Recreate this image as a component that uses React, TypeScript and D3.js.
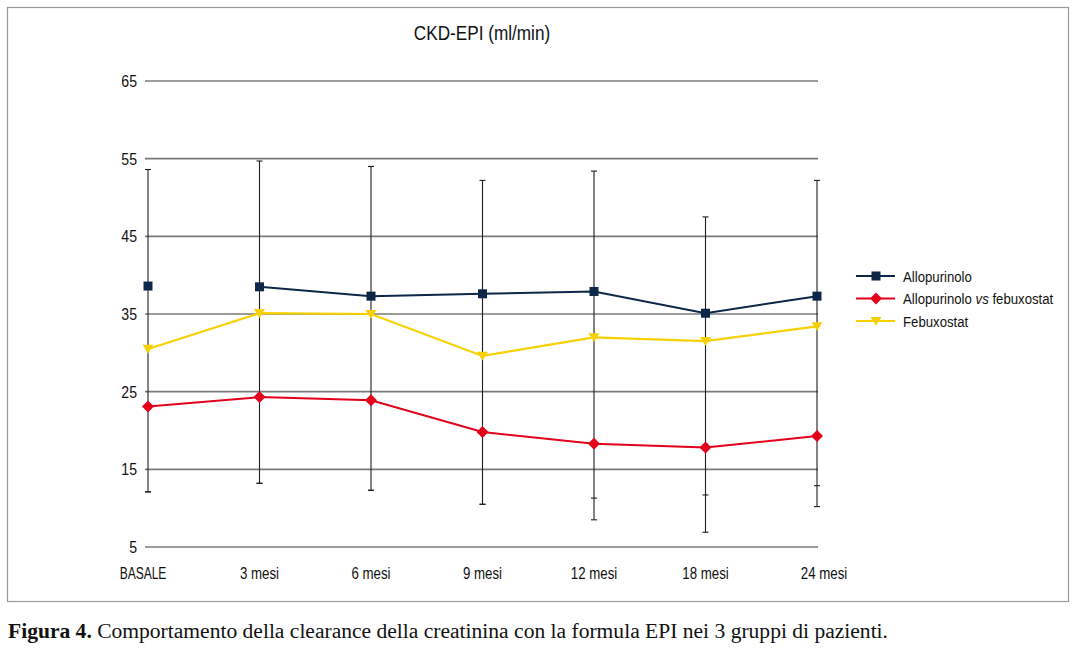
import React from 'react';
import * as d3 from 'd3';

const categories = ['BASALE', '3 mesi', '6 mesi', '9 mesi', '12 mesi', '18 mesi', '24 mesi'];
const yTicks = [5, 15, 25, 35, 45, 55, 65];

const allopurinolo = [38.6, 38.5, 37.3, 37.6, 37.9, 35.1, 37.3];
const alloFebu = [23.1, 24.3, 23.9, 19.8, 18.3, 17.8, 19.3];
const febuxostat = [30.5, 35.1, 35.0, 29.6, 32.0, 31.5, 33.4];

// whisker ends
const errorHigh = [53.6, 54.7, 54.0, 52.2, 53.4, 47.5, 52.2];
const errorLow = [12.1, 13.2, 12.3, 10.5, 8.5, 6.9, 10.2];
const errorLowInner = [12.1, 13.2, 12.3, 10.5, 11.3, 11.7, 12.9];

const NAVY = '#0c2748';
const RED = '#e2001a';
const YELLOW = '#f8d000';
const FONT = '"Liberation Sans", Arial, sans-serif';

// condensed text: regular sans squeezed horizontally
const NText = ({ x, y, size, sx = 0.83, anchor = 'start', children }: any) => (
  <text transform={`translate(${x},${y}) scale(${sx},1)`} textAnchor={anchor}
    fontFamily={FONT} fontSize={size} fill="#111">
    {children}
  </text>
);

export default function App() {
  const x = d3.scalePoint<string>().domain(categories).range([148, 817]);
  const y = d3.scaleLinear().domain([5, 65]).range([547, 81]);

  const mkLine = (vals: number[], skipFirst = false) =>
    d3.line<number>()
      .defined((_, i) => !skipFirst || i > 0)
      .x((_, i) => x(categories[i])!)
      .y(d => y(d))(vals) || '';

  const square = (cx: number, cy: number, s: number) =>
    <rect x={cx - s / 2} y={cy - s / 2} width={s} height={s} fill={NAVY} />;
  const diamond = (cx: number, cy: number, s: number) =>
    <path d={`M${cx},${cy - s}L${cx + s},${cy}L${cx},${cy + s}L${cx - s},${cy}Z`} fill={RED} />;
  const triangle = (cx: number, cy: number, s: number) =>
    <path d={`M${cx - s},${cy - s * 0.75}L${cx + s},${cy - s * 0.75}L${cx},${cy + s * 0.85}Z`} fill={YELLOW} />;

  const legend = [
    { label: 'Allopurinolo', color: NAVY, mark: square, size: 9 },
    { label: 'vs', color: RED, mark: diamond, size: 6 },
    { label: 'Febuxostat', color: YELLOW, mark: triangle, size: 5.5 },
  ];

  return (
    <svg width={1075} height={648} style={{ position: 'absolute', left: 0, top: 0, background: '#fff' }}>
      <rect x={7.5} y={7.5} width={1061} height={594} fill="none" stroke="#9a9a9a" strokeWidth={1.2} />

      <NText x={482} y={40} size={19.5} sx={0.88} anchor="middle">CKD-EPI (ml/min)</NText>

      {/* grid + y labels */}
      {yTicks.map(t => (
        <g key={t}>
          <line x1={145} x2={818} y1={y(t)} y2={y(t)} stroke="#7a7a7a" strokeWidth={1.6} />
          <NText x={137} y={y(t) + 6} size={17} anchor="end">{t}</NText>
        </g>
      ))}

      {/* x labels */}
      {categories.map(c => (
        <NText key={c} x={x(c)! + (c === '24 mesi' ? 7 : c === 'BASALE' ? -5 : 0)} y={579}
          size={16} sx={c === 'BASALE' ? 0.75 : 0.83} anchor="middle">
          {c}
        </NText>
      ))}

      {/* error bars */}
      {categories.map((c, i) => {
        const cx = x(c)!;
        const caps = [errorHigh[i], errorLow[i], errorLowInner[i]];
        return (
          <g key={c} stroke="#1e1e1e" strokeWidth={1.1}>
            <line x1={cx} x2={cx} y1={y(errorHigh[i])} y2={y(errorLow[i])} />
            {caps.map((v, k) => (
              <line key={k} x1={cx - 3} x2={cx + 3} y1={y(v)} y2={y(v)} />
            ))}
          </g>
        );
      })}

      {/* series */}
      <path d={mkLine(allopurinolo, true)} fill="none" stroke={NAVY} strokeWidth={2} />
      <path d={mkLine(alloFebu)} fill="none" stroke={RED} strokeWidth={2} />
      <path d={mkLine(febuxostat)} fill="none" stroke={YELLOW} strokeWidth={2.2} />
      {allopurinolo.map((v, i) => <g key={'a' + i}>{square(x(categories[i])!, y(v), 9)}</g>)}
      {alloFebu.map((v, i) => <g key={'r' + i}>{diamond(x(categories[i])!, y(v), 6)}</g>)}
      {febuxostat.map((v, i) => <g key={'f' + i}>{triangle(x(categories[i])!, y(v), 5.5)}</g>)}

      {/* legend */}
      {legend.map((l, i) => {
        const ly = 276 + i * 22.5;
        return (
          <g key={l.label}>
            <line x1={856} x2={895} y1={ly} y2={ly} stroke={l.color} strokeWidth={2} />
            {l.mark(876, ly, l.size)}
            <NText x={903} y={ly + 5.5} size={15} sx={0.88}>
              {i === 1 ? (
                <>Allopurinolo <tspan fontStyle="italic">vs</tspan> febuxostat</>
              ) : l.label}
            </NText>
          </g>
        );
      })}

      {/* caption */}
      <text x={8} y={638} fontFamily='"Liberation Serif", "DejaVu Serif", serif' fontSize={20} fill="#111"
        textLength={880} lengthAdjust="spacingAndGlyphs">
        <tspan fontWeight="bold">Figura 4.</tspan> Comportamento della clearance della creatinina con la formula EPI nei 3 gruppi di pazienti.
      </text>
    </svg>
  );
}
